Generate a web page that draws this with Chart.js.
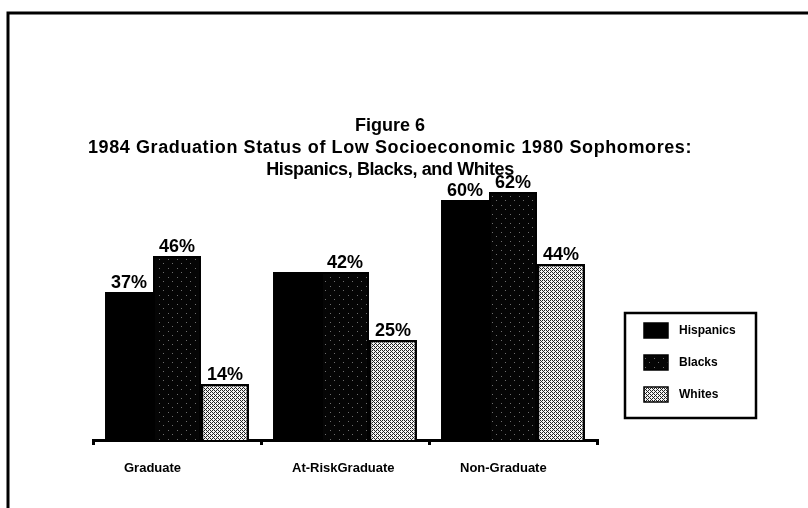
<!DOCTYPE html>
<html><head><meta charset="utf-8">
<script src="https://cdn.jsdelivr.net/npm/chart.js@4.4.1/dist/chart.umd.min.js"></script>
<style>html,body{margin:0;padding:0;background:#fff}#wrap{width:808px;height:508px}</style>
</head><body><div id="wrap"><canvas id="c" width="808" height="508"></canvas></div>
<script>
const titleLines = ['Figure 6', '1984 Graduation Status of Low Socioeconomic 1980 Sophomores:', 'Hispanics, Blacks, and Whites'];
const categories = ['Graduate', 'At-RiskGraduate', 'Non-Graduate'];
const seriesNames = ['Hispanics', 'Blacks', 'Whites'];
const hispanics = [37, 42, 60];
const blacks = [46, 42, 62];
const whites = [14, 25, 44];
const hispanicsLabels = ['37%', null, '60%'];
const blacksLabels = ['46%', '42%', '62%'];
const whitesLabels = ['14%', '25%', '44%'];

const FONT = "'Liberation Sans', Arial, Helvetica, sans-serif";
const titleSpacing = ['0px', '0.6px', '-0.4px'];

function makePattern(bg, fg, size, pts) {
  const c = document.createElement('canvas');
  c.width = size; c.height = size;
  const g = c.getContext('2d');
  g.fillStyle = bg; g.fillRect(0, 0, size, size);
  g.fillStyle = fg;
  pts.forEach(p => g.fillRect(p[0], p[1], 1, 1));
  return g.createPattern(c, 'repeat');
}
const ctx = document.getElementById('c').getContext('2d');
const blackPat = makePattern('#050505', '#6e6e6e', 9, [[1,2],[6,7]]);
const whitePat = makePattern('#f4f4f4', '#202020', 4, [[0,0],[1,1],[2,2],[3,3],[2,0],[0,2]]);
const fills = ['#000000', blackPat, whitePat];
const valueLabels = [hispanicsLabels, blacksLabels, whitesLabels];

const framePlugin = {
  id: 'frame',
  beforeDraw(chart) {
    const g = chart.ctx;
    g.save();
    g.fillStyle = '#fff';
    g.fillRect(0, 0, chart.width, chart.height);
    g.strokeStyle = '#000';
    g.lineWidth = 3;
    g.beginPath();
    g.moveTo(8, 508); g.lineTo(8, 13); g.lineTo(808, 13);
    g.stroke();
    g.fillStyle = '#000';
    g.font = 'bold 18px ' + FONT;
    g.textAlign = 'center';
    g.textBaseline = 'middle';
    titleLines.forEach((t, i) => {
      g.letterSpacing = titleSpacing[i];
      g.fillText(t, 390, 126 + i * 22);
    });
    g.letterSpacing = '0px';
    g.restore();
  }
};

const labelPlugin = {
  id: 'valueLabels',
  afterDatasetsDraw(chart) {
    const g = chart.ctx;
    g.save();
    g.fillStyle = '#000';
    g.font = 'bold 18px ' + FONT;
    g.textAlign = 'center';
    g.textBaseline = 'alphabetic';
    chart.data.datasets.forEach((ds, i) => {
      const meta = chart.getDatasetMeta(i);
      meta.data.forEach((el, j) => {
        const t = valueLabels[i][j];
        if (t) g.fillText(t, el.x, el.y - 4);
      });
    });
    g.restore();
  }
};

const legendPlugin = {
  id: 'legendBox',
  afterDraw(chart) {
    const g = chart.ctx;
    g.save();
    g.strokeStyle = '#000';
    g.lineWidth = 2.5;
    g.strokeRect(625, 313, 131, 105);
    g.font = 'bold 12px ' + FONT;
    g.textBaseline = 'middle';
    g.textAlign = 'left';
    chart.data.datasets.forEach((ds, i) => {
      const cy = 330 + i * 32;
      g.fillStyle = ds.backgroundColor;
      g.fillRect(644, cy - 7, 24, 15);
      g.lineWidth = 1.5;
      g.strokeRect(644, cy - 7, 24, 15);
      g.fillStyle = '#000';
      g.fillText(ds.label, 679, cy + 1);
    });
    g.restore();
  }
};

new Chart(ctx, {
  type: 'bar',
  data: {
    labels: categories,
    datasets: [
      { label: seriesNames[0], data: hispanics, backgroundColor: fills[0], borderColor: '#000', borderWidth: 0 },
      { label: seriesNames[1], data: blacks, backgroundColor: fills[1], borderColor: '#000', borderWidth: 2 },
      { label: seriesNames[2], data: whites, backgroundColor: fills[2], borderColor: '#000', borderWidth: 2.5 }
    ]
  },
  options: {
    responsive: false,
    animation: false,
    devicePixelRatio: 1,
    categoryPercentage: 0.857,
    barPercentage: 1,
    layout: { padding: { left: 0, right: 28, top: 185, bottom: 28 } },
    plugins: {
      legend: { display: false },
      tooltip: { enabled: false },
      title: { display: false }
    },
    scales: {
      x: {
        grid: { display: true, drawOnChartArea: false, drawTicks: true, tickLength: 5, color: '#000', lineWidth: 3, offset: true },
        border: { display: true, color: '#000', width: 3 },
        ticks: { align: 'start', labelOffset: -53, padding: 16, color: '#000', maxRotation: 0, autoSkip: false,
                 font: { family: FONT, size: 13, weight: 'bold' } },
        afterFit: s => { s.height = 40; }
      },
      y: {
        display: true, min: 0, max: 63.75,
        ticks: { display: false }, grid: { display: false }, border: { display: false },
        afterFit: s => { s.width = 93; }
      },
      y2: {
        position: 'right', display: true, min: 0, max: 1,
        ticks: { display: false }, grid: { display: false }, border: { display: false },
        afterFit: s => { s.width = 183; }
      }
    }
  },
  plugins: [framePlugin, labelPlugin, legendPlugin]
});
</script>
</body></html>
